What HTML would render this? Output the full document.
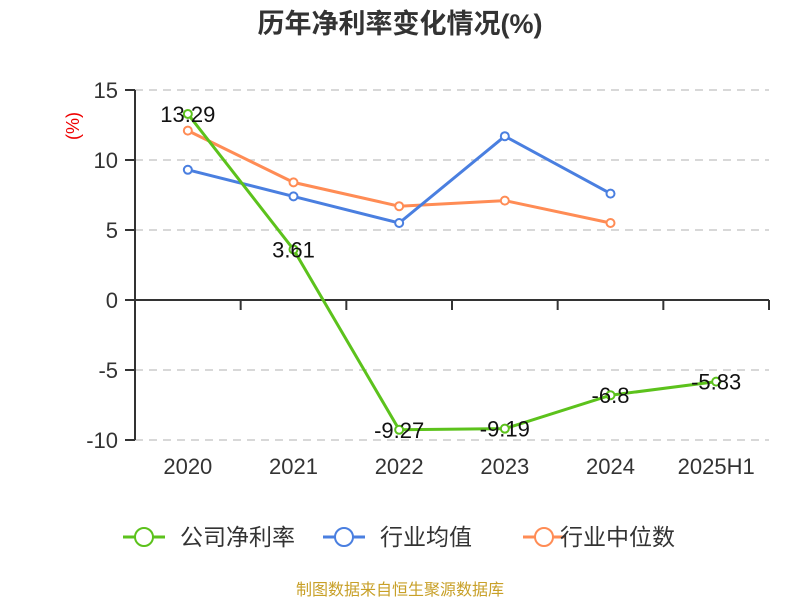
<!DOCTYPE html>
<html><head><meta charset="utf-8"><style>
body{margin:0;background:#fff;}
svg text{font-family:"Liberation Sans","Noto Sans CJK SC",sans-serif;}
</style></head><body>
<svg id="chart" width="800" height="600" xmlns="http://www.w3.org/2000/svg">
<text x="400" y="33" text-anchor="middle" font-size="27" font-weight="bold" fill="#333">历年净利率变化情况(%)</text>
<text x="0" y="0" transform="translate(79,126) rotate(-90)" text-anchor="middle" font-size="18" fill="#e00">(%)</text>
<g id="grid"></g><g id="axes"></g><g id="series"></g>
<g>
 <g><line x1="123" y1="537" x2="165" y2="537" stroke="#5cc21c" stroke-width="3"/><circle cx="144" cy="537" r="9" fill="#fff" stroke="#5cc21c" stroke-width="2"/><text x="180" y="545" font-size="23" fill="#333">公司净利率</text></g>
 <g><line x1="323" y1="537" x2="365" y2="537" stroke="#4a7fe0" stroke-width="3"/><circle cx="344" cy="537" r="9" fill="#fff" stroke="#4a7fe0" stroke-width="2"/><text x="380" y="545" font-size="23" fill="#333">行业均值</text></g>
 <g><line x1="523" y1="537" x2="565" y2="537" stroke="#ff8c55" stroke-width="3"/><circle cx="544" cy="537" r="9" fill="#fff" stroke="#ff8c55" stroke-width="2"/><text x="560" y="545" font-size="23" fill="#333">行业中位数</text></g>
</g>
<text x="400" y="595" text-anchor="middle" font-size="16" fill="#c8a028">制图数据来自恒生聚源数据库</text>
</svg>
<script>
const categories=["2020","2021","2022","2023","2024","2025H1"];
const company=[13.29,3.61,-9.27,-9.19,-6.8,-5.83];
const industryAvg=[9.3,7.4,5.5,11.7,7.6];
const industryMedian=[12.1,8.4,6.7,7.1,5.5];
const yTicks=[15,10,5,0,-5,-10];
const NS="http://www.w3.org/2000/svg";
const x0=135,x1=769,yTop=90,yBot=440,vMax=15,vMin=-10;
const bw=(x1-x0)/categories.length;
const xs=i=>x0+bw*(i+0.5);
const ys=v=>yTop+(vMax-v)/(vMax-vMin)*(yBot-yTop);
function mk(tag,attrs,parent){const e=document.createElementNS(NS,tag);for(const k in attrs)e.setAttribute(k,attrs[k]);parent.appendChild(e);return e;}
const grid=document.getElementById('grid'),axes=document.getElementById('axes'),ser=document.getElementById('series');
yTicks.forEach(t=>{
 const y=ys(t);
 if(t!==0){const g=mk('line',{x1:x0,x2:x1,y1:y,y2:y,stroke:'#ccc','stroke-width':1.5,'stroke-dasharray':'8,6'},grid);
 
 }
 const tk=mk('line',{x1:125,x2:x0,y1:y,y2:y,stroke:'#333','stroke-width':2},axes);
 
 
 const lb=mk('text',{x:118,y:y+8,'text-anchor':'end','font-size':22,fill:'#333'},axes);
 lb.textContent=t;
 
 
});
const ya=mk('line',{x1:x0,x2:x0,y1:yTop,y2:yBot,stroke:'#333','stroke-width':2},axes);


const xa=mk('line',{x1:x0,x2:x1,y1:ys(0),y2:ys(0),stroke:'#333','stroke-width':2},axes);


for(let i=0;i<=categories.length;i++){
 const t=mk('line',{x1:x0+bw*i,x2:x0+bw*i,y1:ys(0),y2:ys(0)+10,stroke:'#333','stroke-width':2},axes);
 
 
}
categories.forEach((c,i)=>{
 const l=mk('text',{x:xs(i),y:474,'text-anchor':'middle','font-size':22,fill:'#333'},axes);
 l.textContent=c;
 
 
});
function drawSeries(data,color,name,labels){
 const pts=data.map((v,i)=>xs(i)+','+ys(v)).join(' ');
 const pl=mk('polyline',{points:pts,fill:'none',stroke:color,'stroke-width':3},ser);
 
 
 data.forEach((v,i)=>{
  const c=mk('circle',{cx:xs(i),cy:ys(v),r:4,fill:'#fff',stroke:color,'stroke-width':2},ser);
  
  
  if(labels){
   const t=mk('text',{x:xs(i),y:ys(v)+8,'text-anchor':'middle','font-size':22,fill:'#111'},ser);
   t.textContent=v;
   
   
  }
 });
}
drawSeries(industryMedian,'#ff8c55','industry-median',false);
drawSeries(industryAvg,'#4a7fe0','industry-avg',false);
drawSeries(company,'#5cc21c','company',true);
</script>
</body></html>
